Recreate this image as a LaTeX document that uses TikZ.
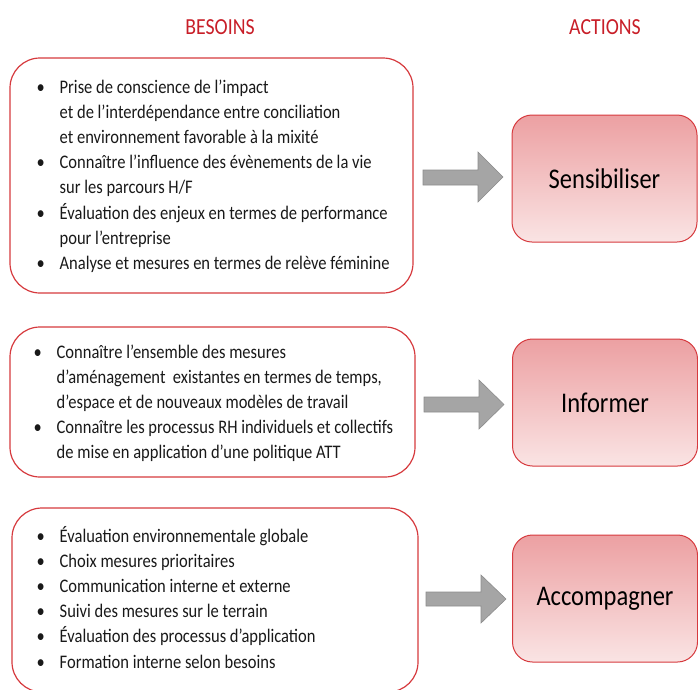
\documentclass[tikz,border=0pt]{standalone}
\usepackage{fontspec}
\setmainfont[FakeStretch=0.86]{Carlito}
\definecolor{boxred}{RGB}{214,58,62}
\definecolor{headred}{RGB}{200,30,40}
\definecolor{txtgray}{RGB}{25,25,25}
\definecolor{topfill}{RGB}{236,160,162}
\definecolor{botfill}{RGB}{250,228,228}
\definecolor{arrfill}{RGB}{165,165,165}
\definecolor{arrline}{RGB}{140,140,140}
\newcommand\bitem{\makebox[23pt][l]{\textbullet}}
\newcommand\bcont{\hspace*{23pt}}
\tikzset{
  head/.style={font=\fontsize{23}{24}\selectfont, text=headred, inner sep=0},
  needbox/.style={draw=boxred, line width=1.2pt, rounded corners=30pt},
  needtxt/.style={anchor=base west, inner sep=0, font=\fontsize{19.2}{25.2}\selectfont, text=txtgray},
  actbox/.style={draw=boxred, line width=1pt, rounded corners=20pt, top color=topfill, bottom color=botfill,
    minimum width=185pt, minimum height=127pt, font=\fontsize{28.5}{30}\selectfont, text=black},
  bigarrow/.style={fill=arrfill, draw=arrline, line width=0.6pt}
}
\begin{document}
\begin{tikzpicture}[x=1pt,y=-1pt]
\useasboundingbox (0,0) rectangle (698,689);
\clip (0,0) rectangle (698,689);
\node[head] (hb) at (220,27) {BESOINS};
\node[head] (ha) at (605,27) {ACTIONS};

\node[needbox, minimum width=403pt, minimum height=235pt] (b1) at (211.5,175.5) {};
\node[needbox, minimum width=405pt, minimum height=150pt] (b2) at (212.5,402) {};
\node[needbox, minimum width=406pt, minimum height=184pt] (b3) at (215,600) {};

\node[needtxt] (t1) at (36.5,93) {\parbox[t]{380pt}{%
\bitem Prise de conscience de l’impact\\
\bcont et de l’interdépendance entre conciliation\\
\bcont et environnement favorable à la mixité\\
\bitem Connaître l’influence des évènements de la vie\\
\bcont sur les parcours H/F\\
\bitem Évaluation des enjeux en termes de performance\\
\bcont pour l’entreprise\\
\bitem Analyse et mesures en termes de relève féminine}};

\node[needtxt] (t2) at (33.5,358) {\parbox[t]{385pt}{%
\bitem Connaître l’ensemble des mesures\\
\bcont d’aménagement\ \ existantes en termes de temps,\\
\bcont d’espace et de nouveaux modèles de travail\\
\bitem Connaître les processus RH individuels et collectifs\\
\bcont de mise en application d’une politique ATT}};

\node[needtxt] (t3) at (36.5,542) {\parbox[t]{380pt}{%
\bitem Évaluation environnementale globale\\
\bitem Choix mesures prioritaires\\
\bitem Communication interne et externe\\
\bitem Suivi des mesures sur le terrain\\
\bitem Évaluation des processus d’application\\
\bitem Formation interne selon besoins}};

\node[actbox] (a1) at (604.5,178.5) {Sensibiliser};
\node[actbox] (a2) at (605,402.5) {Informer};
\node[actbox] (a3) at (605,598.5) {Accompagner};

\draw[bigarrow] (423,170) -- (478,170) -- (478,152) -- (503,177) -- (478,202) -- (478,185) -- (423,185) -- cycle;
\draw[bigarrow] (424,397) -- (479,397) -- (479,380) -- (504,404.5) -- (479,429) -- (479,412) -- (424,412) -- cycle;
\draw[bigarrow] (426,592) -- (481,592) -- (481,575) -- (506,599) -- (481,623) -- (481,606) -- (426,606) -- cycle;
\end{tikzpicture}
\end{document}
